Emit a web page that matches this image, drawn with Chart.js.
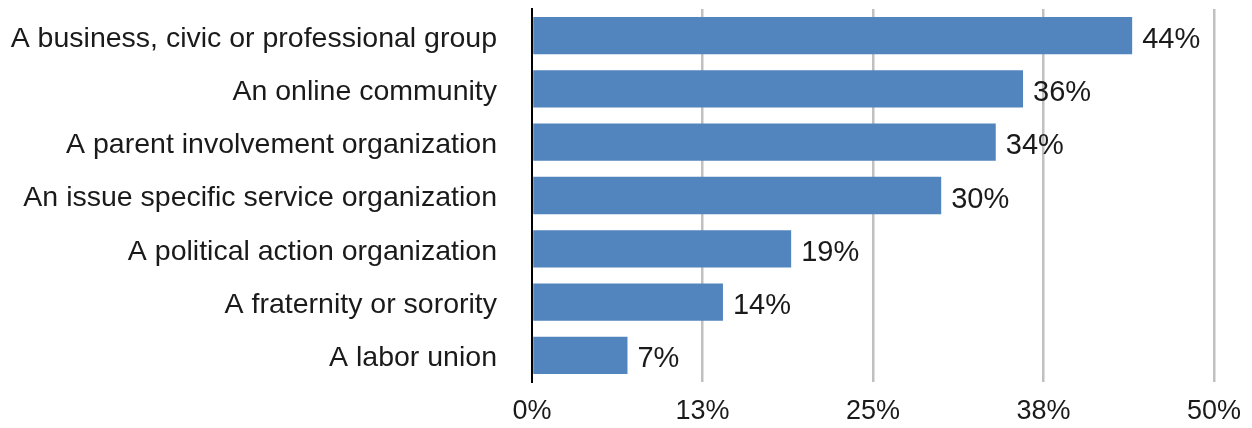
<!DOCTYPE html>
<html>
<head>
<meta charset="utf-8">
<script src="https://cdn.jsdelivr.net/npm/chart.js@4.4.0/dist/chart.umd.min.js"></script>
<style>
html,body{margin:0;padding:0;background:#fff;}
#wrap{width:1252px;height:428px;}
</style>
</head>
<body>
<div id="wrap"><canvas id="c" width="1252" height="428"></canvas></div>
<script>
const categories = [
  "A business, civic or professional group",
  "An online community",
  "A parent involvement organization",
  "An issue specific service organization",
  "A political action organization",
  "A fraternity or sorority",
  "A labor union"
];
const values = [44, 36, 34, 30, 19, 14, 7];
const tickValues = [0, 12.5, 25, 37.5, 50];
const tickLabels = ["0%", "13%", "25%", "38%", "50%"];

const FONT = "'Liberation Sans', Arial, sans-serif";

const valueLabels = {
  id: 'valueLabels',
  afterDatasetsDraw(chart) {
    const ctx = chart.ctx;
    const meta = chart.getDatasetMeta(0);
    ctx.save();
    ctx.font = "29px " + FONT;
    ctx.fillStyle = "#1a1a1a";
    ctx.textAlign = "left";
    ctx.textBaseline = "middle";
    meta.data.forEach((bar, i) => {
      ctx.fillText(values[i] + "%", bar.x + 10, bar.y + 4);
    });
    ctx.restore();
  }
};

new Chart(document.getElementById('c'), {
  type: 'bar',
  data: {
    labels: categories,
    datasets: [{
      data: values,
      backgroundColor: '#5285bd',
      borderWidth: 0,
      categoryPercentage: 1.0,
      barPercentage: 0.7
    }]
  },
  options: {
    indexAxis: 'y',
    responsive: false,
    animation: false,
    devicePixelRatio: 1,
    layout: { padding: { top: 9, right: 38, bottom: 0, left: 0 } },
    plugins: { legend: { display: false }, tooltip: { enabled: false } },
    scales: {
      x: {
        min: 0, max: 50,
        afterBuildTicks(scale) { scale.ticks = tickValues.map(v => ({ value: v })); },
        afterFit(scale) { scale.paddingLeft = 0; scale.paddingRight = 0; scale.height = 46; },
        ticks: {
          callback(v) { const i = tickValues.indexOf(v); return i >= 0 ? tickLabels[i] : ''; },
          font: { family: FONT, size: 27 },
          color: '#1a1a1a',
          padding: 13,
          maxRotation: 0
        },
        grid: {
          color: ctx => (ctx.tick && ctx.tick.value === 0) ? 'rgba(0,0,0,0)' : '#c0c0c0',
          lineWidth: 2.5,
          drawTicks: false
        },
        border: { display: false }
      },
      y: {
        afterFit(scale) { scale.width = 532; scale.paddingTop = 0; scale.paddingBottom = 0; },
        ticks: {
          font: { family: FONT, size: 28.5 },
          color: '#1a1a1a',
          padding: 35,
          labelOffset: 3
        },
        grid: { display: false, drawTicks: false },
        border: { display: true, color: '#000', width: 2 }
      }
    }
  },
  plugins: [valueLabels]
});
</script>
</body>
</html>
